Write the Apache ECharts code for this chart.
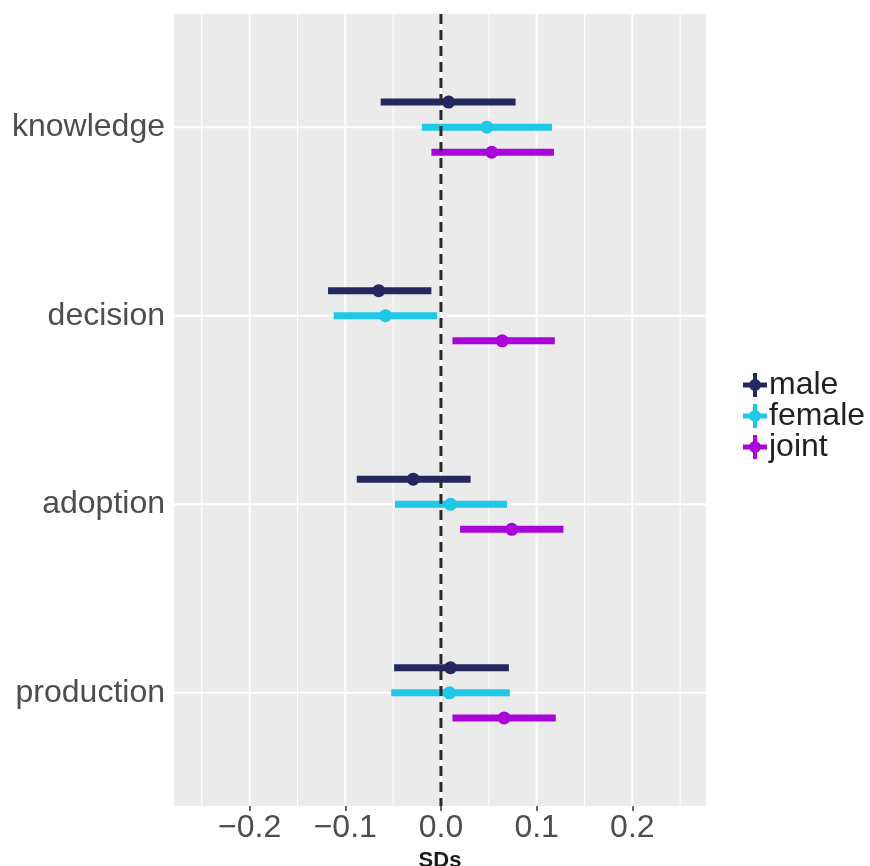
<!DOCTYPE html>
<html>
<head>
<meta charset="utf-8">
<script src="https://cdn.jsdelivr.net/npm/echarts@6/dist/echarts.min.js"></script>
<style>html,body{margin:0;padding:0;background:#fff}#c{width:870px;height:866px}</style>
</head>
<body>
<div id="c"></div>
<script>
const categories = ['knowledge', 'decision', 'adoption', 'production'];
const groups = ['male', 'female', 'joint'];
const groupColors = ['#25285f', '#1ec8e6', '#a905d8'];
const dodge = [-0.133, 0, 0.133];

const maleEst = [0.008, -0.065, -0.029, 0.010];
const maleLo = [-0.063, -0.118, -0.088, -0.049];
const maleHi = [0.078, -0.010, 0.031, 0.071];
const femaleEst = [0.048, -0.058, 0.010, 0.009];
const femaleLo = [-0.020, -0.112, -0.048, -0.052];
const femaleHi = [0.116, -0.004, 0.069, 0.072];
const jointEst = [0.053, 0.064, 0.074, 0.066];
const jointLo = [-0.010, 0.012, 0.020, 0.012];
const jointHi = [0.118, 0.119, 0.128, 0.120];

const xTicks = [-0.2, -0.1, 0, 0.1, 0.2];
const xMinor = [-0.25, -0.15, -0.05, 0.05, 0.15, 0.25];
const refLine = 0;

const est = [maleEst, femaleEst, jointEst];
const lo = [maleLo, femaleLo, jointLo];
const hi = [maleHi, femaleHi, jointHi];

const X_MIN = -0.279, X_MAX = 0.277, Y_MIN = 0.4, Y_MAX = 4.6;
const FONT = "'Liberation Sans', Arial, sans-serif";

const chart = echarts.init(document.getElementById('c'), null, {renderer: 'canvas'});

function gridRender(params, api) {
  const cs = params.coordSys;
  const kind = api.value(2);
  if (kind === 2) {
    const y = api.coord([X_MIN, api.value(1)])[1];
    return {type: 'line', shape: {x1: cs.x, y1: y, x2: cs.x + cs.width, y2: y},
      style: {stroke: '#ffffff', lineWidth: 2}};
  }
  const x = api.coord([api.value(0), Y_MIN])[0];
  return {type: 'line', shape: {x1: x, y1: cs.y, x2: x, y2: cs.y + cs.height},
    style: {stroke: '#ffffff', lineWidth: kind === 0 ? 2 : 1}};
}

const gridData = [];
xTicks.forEach(v => gridData.push([v, 2.5, 0]));
xMinor.forEach(v => gridData.push([v, 2.5, 1]));
categories.forEach((c, i) => gridData.push([0, i + 1, 2]));

function barRender(params, api) {
  const y = api.value(0);
  const p1 = api.coord([api.value(1), y]);
  const p2 = api.coord([api.value(2), y]);
  const pc = api.coord([api.value(3), y]);
  const color = api.visual('color');
  return {type: 'group', children: [
    {type: 'line', shape: {x1: p1[0], y1: p1[1], x2: p2[0], y2: p2[1]},
      style: {stroke: color, lineWidth: 7, lineCap: 'butt'}},
    {type: 'circle', shape: {cx: pc[0], cy: pc[1], r: 6.5}, style: {fill: color}}
  ]};
}

const series = [{
  type: 'custom', name: '_grid', silent: true, z: 1,
  renderItem: gridRender,
  encode: {x: 0, y: 1},
  data: gridData
}];
groups.forEach((g, gi) => {
  series.push({
    type: 'custom', name: g, z: 2,
    itemStyle: {color: groupColors[gi]},
    renderItem: barRender,
    encode: {x: [1, 2, 3], y: 0},
    data: categories.map((c, ci) => [ci + 1 + dodge[gi], lo[gi][ci], hi[gi][ci], est[gi][ci]])
  });
});
series.push({
  type: 'custom', name: '_ref', silent: true, z: 5,
  renderItem: function (params, api) {
    const cs = params.coordSys;
    const x = api.coord([api.value(0), Y_MIN])[0];
    return {type: 'line', shape: {x1: x, y1: cs.y, x2: x, y2: cs.y + cs.height},
      style: {stroke: '#2a2a2a', lineWidth: 3, lineDash: [10, 6]}};
  },
  encode: {x: 0, y: 1},
  data: [[refLine, 2.5]]
});

const plusIcon = 'path://M0,9.5h24v5H0z M10,0h4v24h-4z M12,6a6,6 0 1,1 -0.01,0z';

chart.setOption({
  animation: false,
  backgroundColor: '#ffffff',
  grid: {left: 174, top: 14, width: 532, height: 792, show: true, backgroundColor: '#ebebeb', borderWidth: 0,
    containLabel: false, outerBoundsMode: 'none'},
  legend: {
    data: groups, orient: 'vertical', left: 738, top: 364,
    icon: plusIcon, itemWidth: 24, itemHeight: 24, itemGap: -1,
    textStyle: {fontFamily: FONT, fontSize: 32, color: '#222', lineHeight: 24, padding: [0, 0, 0, -3]}
  },
  xAxis: {
    type: 'value', min: X_MIN, max: X_MAX,
    name: 'SDs', nameLocation: 'middle', nameGap: 44,
    nameTextStyle: {fontFamily: FONT, fontSize: 22, fontWeight: 'bold', color: '#1a1a1a'},
    axisLine: {show: false},
    axisTick: {show: true, length: 5, customValues: xTicks, lineStyle: {color: '#333', width: 1.5}},
    axisLabel: {customValues: xTicks, margin: 6, fontFamily: FONT, fontSize: 32, color: '#4d4d4d',
      formatter: v => (v < 0 ? '\u2212' : '') + Math.abs(v).toFixed(1)},
    splitLine: {show: false}
  },
  yAxis: {
    type: 'value', min: Y_MIN, max: Y_MAX, inverse: true,
    axisLine: {show: false},
    axisTick: {show: true, length: 5, customValues: [1, 2, 3, 4], lineStyle: {color: '#333', width: 1.5}},
    axisLabel: {customValues: [1, 2, 3, 4], margin: 9, fontFamily: FONT, fontSize: 32, color: '#4d4d4d',
      formatter: v => categories[Math.round(v) - 1] || ''},
    splitLine: {show: false}
  },
  series: series
});
</script>
</body>
</html>
